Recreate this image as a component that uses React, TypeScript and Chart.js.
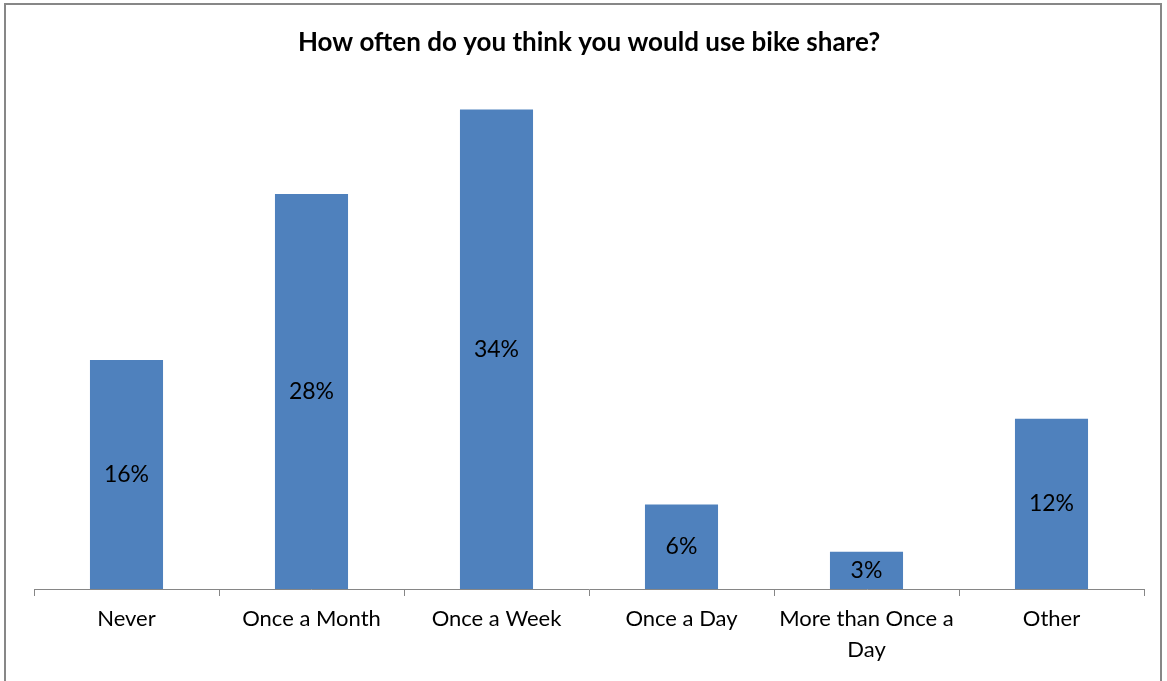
import React, { useEffect, useRef } from "react";
import { Chart, registerables } from "chart.js";

Chart.register(...registerables);

const categories: (string | string[])[] = [
  "Never",
  "Once a Month",
  "Once a Week",
  "Once a Day",
  ["More than Once a", "Day"],
  "Other",
];
const shares: number[] = [16.0, 27.6, 33.5, 5.9, 2.6, 11.9];
const shareLabels: string[] = ["16%", "28%", "34%", "6%", "3%", "12%"];
const chartTitle = "How often do you think you would use bike share?";

const FONT = "Lato, 'Open Sans', sans-serif";

const barLabelPlugin = {
  id: "barLabels",
  afterDatasetsDraw(chart: any) {
    const ctx = chart.ctx;
    const meta = chart.getDatasetMeta(0);
    ctx.save();
    ctx.font = `23px ${FONT}`;
    ctx.fillStyle = "#000";
    ctx.textAlign = "center";
    ctx.textBaseline = "middle";
    meta.data.forEach((el: any, i: number) => {
      const y = (el.y + el.base) / 2;
      ctx.fillText(shareLabels[i], el.x, y);
    });
    ctx.restore();
  },
};

export default function App() {
  const ref = useRef<HTMLCanvasElement | null>(null);
  useEffect(() => {
    document.body.style.margin = "0";
    if (!ref.current) return;
    const chart = new Chart(ref.current, {
      type: "bar",
      data: {
        labels: categories,
        datasets: [
          {
            data: shares,
            backgroundColor: "#4F81BD",
            borderWidth: 0,
            categoryPercentage: 1,
            barPercentage: 0.395,
          },
        ],
      },
      options: {
        animation: false,
        responsive: false,
        devicePixelRatio: 1,
        layout: { padding: { left: 34, right: 23, top: 0, bottom: 0 } },
        plugins: {
          legend: { display: false },
          tooltip: { enabled: false },
          title: {
            display: true,
            text: chartTitle,
            color: "#000",
            font: { family: FONT, size: 26, weight: "bold" },
            padding: { top: 27, bottom: 29.8 },
          },
        },
        scales: {
          x: {
            afterFit: (scale: any) => {
              scale.height = 92;
            },
            grid: {
              display: true,
              offset: true,
              drawOnChartArea: false,
              drawTicks: true,
              tickLength: 7,
              tickColor: "#868686",
              tickWidth: 1,
            },
            border: { display: true, color: "#868686", width: 1 },
            ticks: {
              color: "#000",
              padding: 8,
              maxRotation: 0,
              autoSkip: false,
              font: { family: FONT, size: 22, lineHeight: 1.4 },
            },
          },
          y: {
            display: false,
            min: 0,
            max: 35,
          },
        },
      },
      plugins: [barLabelPlugin],
    });
    return () => chart.destroy();
  }, []);

  return (
    <div style={{ position: "relative", width: 1167, height: 681, overflow: "hidden", background: "#fff" }}>
      <div
        style={{
          position: "absolute",
          left: 4,
          top: 3,
          width: 1158,
          height: 720,
          border: "2px solid #878787",
          boxSizing: "border-box",
        }}
      />
      <canvas ref={ref} width={1167} height={681} style={{ position: "absolute", left: 0, top: 0 }} />
    </div>
  );
}
